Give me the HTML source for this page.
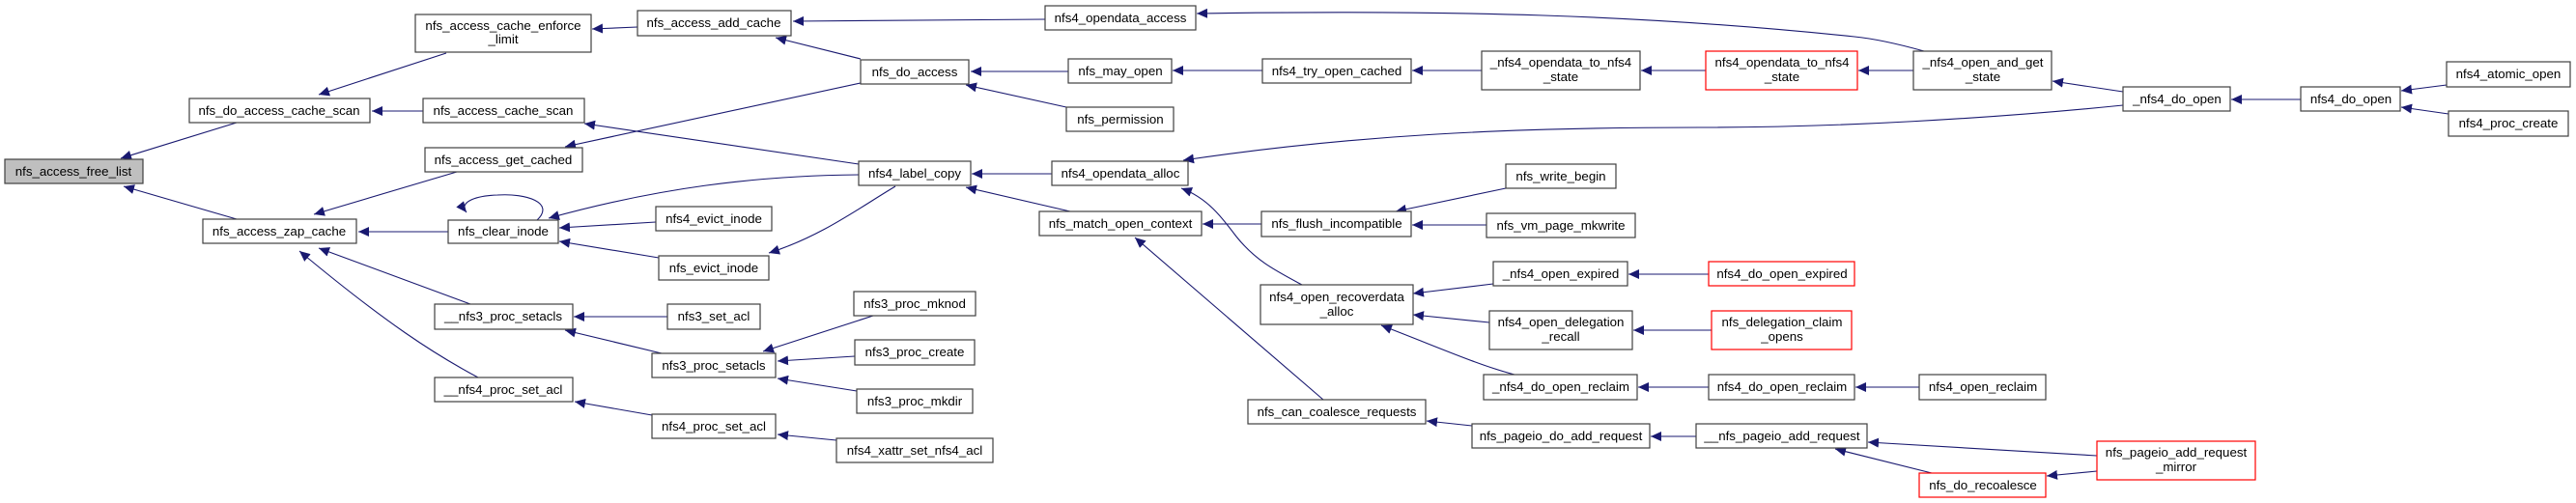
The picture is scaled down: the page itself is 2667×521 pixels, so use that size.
<!DOCTYPE html>
<html><head><meta charset="utf-8"><style>
html,body{margin:0;padding:0;background:#fff;}
svg{display:block;}
text{font-family:"Liberation Sans",Arial,sans-serif;font-size:13.3px;fill:#000;text-anchor:middle;}
.n{fill:#fff;stroke:#404040;stroke-width:1.2;}
.r{fill:#fff;stroke:#ff0000;stroke-width:1.2;}
.g{fill:#bfbfbf;stroke:#404040;stroke-width:1.2;}
.e{fill:none;stroke:#191970;stroke-width:1.1;marker-end:url(#a);}
</style></head><body>
<svg width="2667" height="521" viewBox="0 0 2667 521" xmlns="http://www.w3.org/2000/svg">
<defs><marker id="a" markerUnits="userSpaceOnUse" markerWidth="12" markerHeight="10" refX="11" refY="5" orient="auto"><path d="M0,0 L11,5 L0,10 Z" fill="#191970"/></marker></defs>
<g>
<path class="e" d="M245,127 L125,164"/>
<path class="e" d="M245,227 L128,193"/>
<path class="e" d="M462,55 L330,98"/>
<path class="e" d="M438,115 L385,115"/>
<path class="e" d="M660,28 L613,30"/>
<path class="e" d="M891,61 L803,39"/>
<path class="e" d="M1082,20 L821,22"/>
<path class="e" d="M891,86 L585,152"/>
<path class="e" d="M889,170 L605,128"/>
<path class="e" d="M889,181 C780,182 680,195 568,226"/>
<path class="e" d="M927,193 C890,215 850,245 796,262"/>
<path class="e" d="M556,228 C575,210 545,200 515,202 C490,203 475,210 483,220"/>
<path class="e" d="M679,230 L579,236"/>
<path class="e" d="M682,267 L579,250"/>
<path class="e" d="M464,240 L371,240"/>
<path class="e" d="M473,178 L325,222"/>
<path class="e" d="M487,315 L330,257"/>
<path class="e" d="M495,391 C450,367 400,335 310,260"/>
<path class="e" d="M691,328 L594,328"/>
<path class="e" d="M685,366 L585,342"/>
<path class="e" d="M675,430 L595,416"/>
<path class="e" d="M904,327 L790,364"/>
<path class="e" d="M885,369 L805,374"/>
<path class="e" d="M887,405 L805,392"/>
<path class="e" d="M866,456 L805,450"/>
<path class="e" d="M1106,74 L1005,74"/>
<path class="e" d="M1104,111 L1000,88"/>
<path class="e" d="M1089,180 L1006,180"/>
<path class="e" d="M1108,219 L1000,194"/>
<path class="e" d="M1307,73 L1214,73"/>
<path class="e" d="M1534,73 L1462,73"/>
<path class="e" d="M1766,73 L1699,73"/>
<path class="e" d="M1981,73 L1924,73"/>
<path class="e" d="M2198,95 L2125,84"/>
<path class="e" d="M1992,53 C1960,44 1940,40 1920,38 C1700,15 1500,10 1239,14"/>
<path class="e" d="M2198,109 C2060,123 1900,132 1760,132 C1560,132 1400,140 1225,166"/>
<path class="e" d="M2382,103 L2310,103"/>
<path class="e" d="M2533,88 L2486,94"/>
<path class="e" d="M2535,118 L2486,111"/>
<path class="e" d="M1306,232 L1245,232"/>
<path class="e" d="M1559,195 L1445,219"/>
<path class="e" d="M1539,233 L1462,233"/>
<path class="e" d="M1348,295 C1320,280 1300,270 1280,245 C1265,225 1250,205 1223,195"/>
<path class="e" d="M1370,414 L1175,246"/>
<path class="e" d="M1546,294 L1463,304"/>
<path class="e" d="M1542,334 L1463,326"/>
<path class="e" d="M1568,388 C1530,378 1490,360 1430,337"/>
<path class="e" d="M1769,284 L1686,284"/>
<path class="e" d="M1772,342 L1691,342"/>
<path class="e" d="M1769,401 L1696,401"/>
<path class="e" d="M1987,401 L1921,401"/>
<path class="e" d="M1524,441 L1477,436"/>
<path class="e" d="M1756,452 L1709,452"/>
<path class="e" d="M2171,472 L1934,458"/>
<path class="e" d="M2000,490 L1900,465"/>
<path class="e" d="M2171,488 L2119,493"/>
</g>
<g>
<rect class="g" x="5" y="165" width="143" height="25"/><text x="76" y="182">nfs_access_free_list</text>
<rect class="n" x="196" y="102" width="187" height="25"/><text x="289" y="119">nfs_do_access_cache_scan</text>
<rect class="n" x="210" y="227" width="159" height="25"/><text x="289" y="244">nfs_access_zap_cache</text>
<rect class="n" x="430" y="15" width="182" height="39"/><text x="521" y="31">nfs_access_cache_enforce</text><text x="521" y="45">_limit</text>
<rect class="n" x="660" y="11" width="159" height="26"/><text x="739" y="28">nfs_access_add_cache</text>
<rect class="n" x="438" y="102" width="167" height="25"/><text x="521" y="119">nfs_access_cache_scan</text>
<rect class="n" x="440" y="153" width="163" height="25"/><text x="521" y="170">nfs_access_get_cached</text>
<rect class="n" x="464" y="228" width="114" height="24"/><text x="521" y="244">nfs_clear_inode</text>
<rect class="n" x="679" y="214" width="120" height="25"/><text x="739" y="231">nfs4_evict_inode</text>
<rect class="n" x="682" y="265" width="114" height="25"/><text x="739" y="282">nfs_evict_inode</text>
<rect class="n" x="450" y="315" width="143" height="26"/><text x="521" y="332">__nfs3_proc_setacls</text>
<rect class="n" x="691" y="315" width="96" height="26"/><text x="739" y="332">nfs3_set_acl</text>
<rect class="n" x="675" y="366" width="128" height="25"/><text x="739" y="383">nfs3_proc_setacls</text>
<rect class="n" x="450" y="391" width="143" height="25"/><text x="521" y="408">__nfs4_proc_set_acl</text>
<rect class="n" x="675" y="429" width="128" height="25"/><text x="739" y="446">nfs4_proc_set_acl</text>
<rect class="n" x="1082" y="6" width="156" height="25"/><text x="1160" y="23">nfs4_opendata_access</text>
<rect class="n" x="891" y="62" width="112" height="25"/><text x="947" y="79">nfs_do_access</text>
<rect class="n" x="1106" y="61" width="107" height="25"/><text x="1160" y="78">nfs_may_open</text>
<rect class="n" x="1104" y="111" width="111" height="25"/><text x="1160" y="128">nfs_permission</text>
<rect class="n" x="889" y="167" width="116" height="25"/><text x="947" y="184">nfs4_label_copy</text>
<rect class="n" x="1089" y="167" width="141" height="25"/><text x="1160" y="184">nfs4_opendata_alloc</text>
<rect class="n" x="1076" y="219" width="168" height="25"/><text x="1160" y="236">nfs_match_open_context</text>
<rect class="n" x="884" y="302" width="126" height="25"/><text x="947" y="319">nfs3_proc_mknod</text>
<rect class="n" x="885" y="352" width="124" height="26"/><text x="947" y="369">nfs3_proc_create</text>
<rect class="n" x="887" y="403" width="120" height="25"/><text x="947" y="420">nfs3_proc_mkdir</text>
<rect class="n" x="866" y="454" width="162" height="25"/><text x="947" y="471">nfs4_xattr_set_nfs4_acl</text>
<rect class="n" x="1307" y="61" width="154" height="25"/><text x="1384" y="78">nfs4_try_open_cached</text>
<rect class="n" x="1534" y="53" width="164" height="40"/><text x="1616" y="69">_nfs4_opendata_to_nfs4</text><text x="1616" y="84">_state</text>
<rect class="n" x="1559" y="170" width="114" height="25"/><text x="1616" y="187">nfs_write_begin</text>
<rect class="n" x="1306" y="219" width="155" height="26"/><text x="1384" y="236">nfs_flush_incompatible</text>
<rect class="n" x="1539" y="221" width="154" height="25"/><text x="1616" y="238">nfs_vm_page_mkwrite</text>
<rect class="n" x="1546" y="271" width="139" height="25"/><text x="1616" y="288">_nfs4_open_expired</text>
<rect class="n" x="1305" y="295" width="158" height="41"/><text x="1384" y="312">nfs4_open_recoverdata</text><text x="1384" y="327">_alloc</text>
<rect class="n" x="1542" y="322" width="148" height="40"/><text x="1616" y="338">nfs4_open_delegation</text><text x="1616" y="353">_recall</text>
<rect class="n" x="1536" y="388" width="159" height="26"/><text x="1616" y="405">_nfs4_do_open_reclaim</text>
<rect class="n" x="1292" y="414" width="184" height="25"/><text x="1384" y="431">nfs_can_coalesce_requests</text>
<rect class="n" x="1524" y="439" width="184" height="25"/><text x="1616" y="456">nfs_pageio_do_add_request</text>
<rect class="r" x="1766" y="53" width="157" height="40"/><text x="1845" y="69">nfs4_opendata_to_nfs4</text><text x="1845" y="84">_state</text>
<rect class="n" x="1981" y="53" width="143" height="40"/><text x="2053" y="69">_nfs4_open_and_get</text><text x="2053" y="84">_state</text>
<rect class="n" x="2198" y="90" width="111" height="25"/><text x="2254" y="107">_nfs4_do_open</text>
<rect class="r" x="1769" y="271" width="151" height="25"/><text x="1845" y="288">nfs4_do_open_expired</text>
<rect class="r" x="1772" y="322" width="145" height="40"/><text x="1845" y="338">nfs_delegation_claim</text><text x="1845" y="353">_opens</text>
<rect class="n" x="1769" y="388" width="151" height="26"/><text x="1845" y="405">nfs4_do_open_reclaim</text>
<rect class="n" x="1987" y="388" width="131" height="26"/><text x="2053" y="405">nfs4_open_reclaim</text>
<rect class="n" x="1756" y="439" width="177" height="25"/><text x="1845" y="456">__nfs_pageio_add_request</text>
<rect class="r" x="1987" y="490" width="131" height="25"/><text x="2053" y="507">nfs_do_recoalesce</text>
<rect class="r" x="2171" y="457" width="164" height="40"/><text x="2253" y="473">nfs_pageio_add_request</text><text x="2253" y="488">_mirror</text>
<rect class="n" x="2382" y="90" width="103" height="25"/><text x="2434" y="107">nfs4_do_open</text>
<rect class="n" x="2533" y="64" width="128" height="26"/><text x="2597" y="81">nfs4_atomic_open</text>
<rect class="n" x="2535" y="115" width="124" height="26"/><text x="2597" y="132">nfs4_proc_create</text>
</g>
</svg>
</body></html>
